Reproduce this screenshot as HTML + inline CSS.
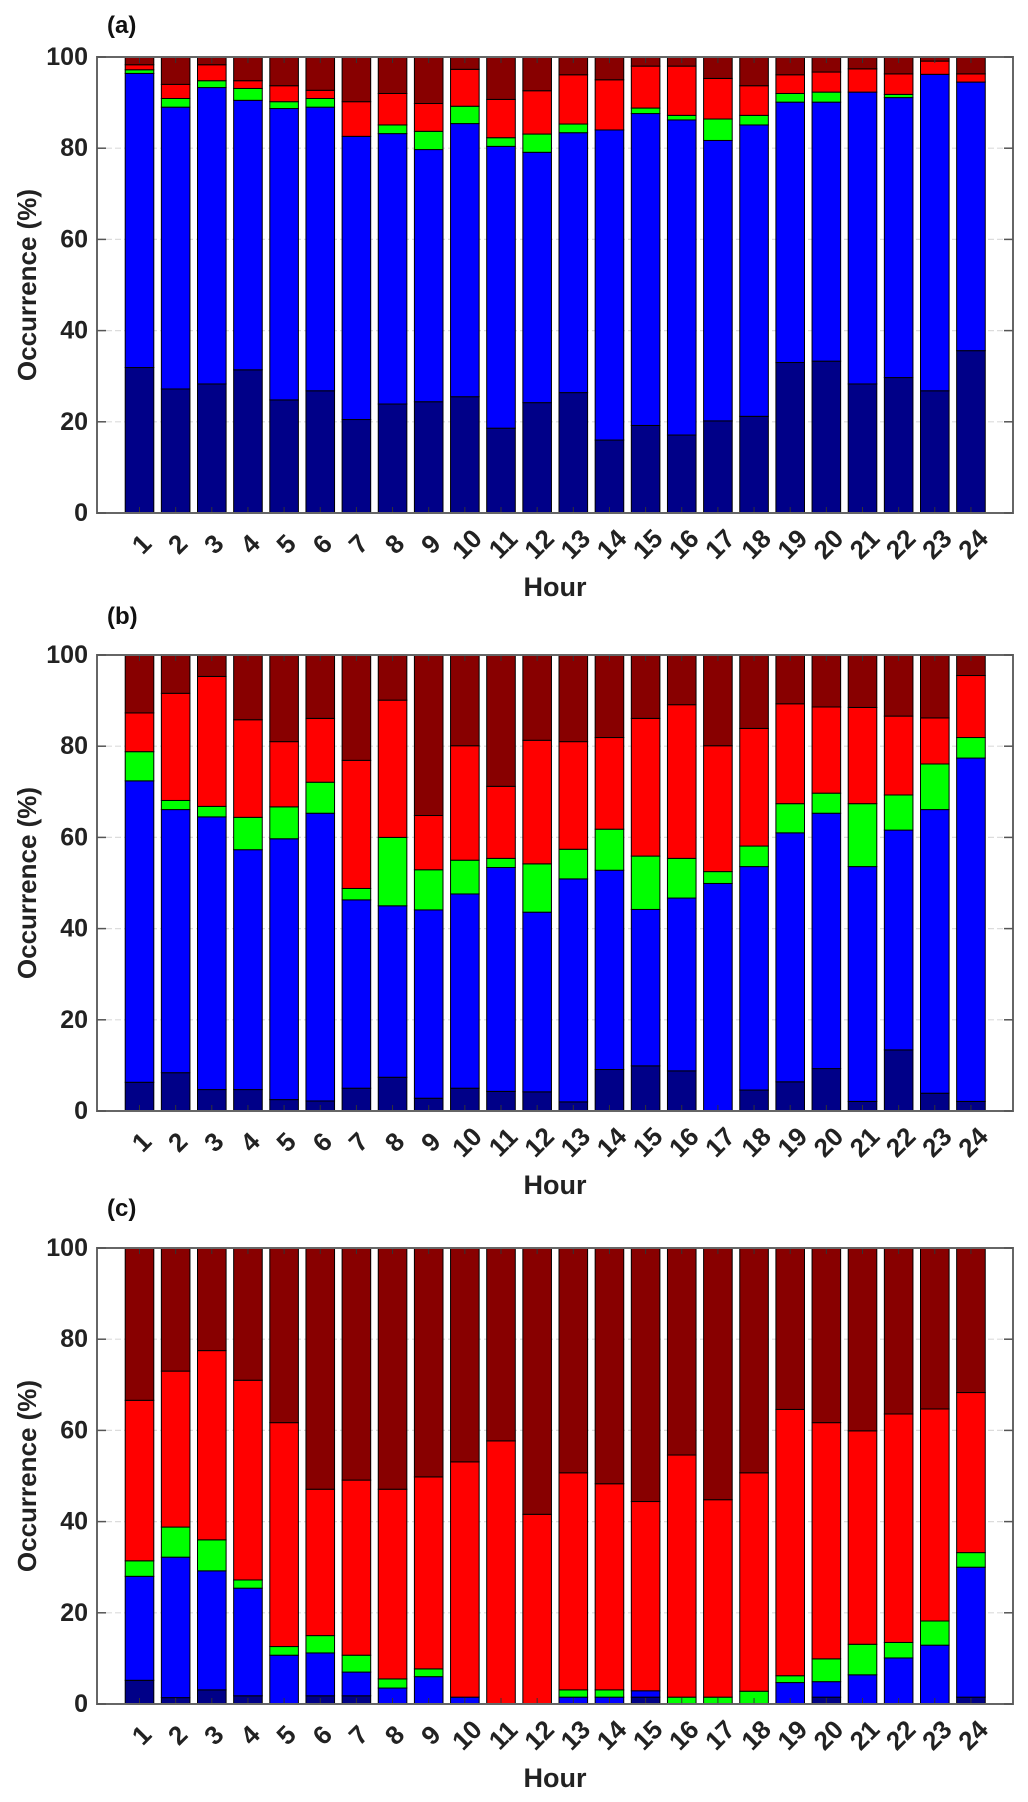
<!DOCTYPE html>
<html><head><meta charset="utf-8"><style>
html,body{margin:0;padding:0;background:#fff;}
svg{display:block;font-family:"Liberation Sans",Arial,sans-serif;}
</style></head><body>
<svg id="chart" width="1028" height="1802" viewBox="0 0 1028 1802"></svg>
<script>
const hours = [1,2,3,4,5,6,7,8,9,10,11,12,13,14,15,16,17,18,19,20,21,22,23,24];
const yTicks = [0,20,40,60,80,100];
const panelLabels = ["(a)","(b)","(c)"];
// cumulative tops (%) for each stacked layer: navy, blue, green, red; dark red fills to 100
const aNavy  = [31.9,27.2,28.3,31.4,24.8,26.8,20.5,23.9,24.4,25.5,18.6,24.2,26.4,16.0,19.2,17.1,20.2,21.2,33.0,33.3,28.3,29.7,26.8,35.6];
const aBlue  = [96.4,89.0,93.3,90.5,88.7,89.0,82.6,83.2,79.7,85.4,80.4,79.1,83.4,84.0,87.6,86.2,81.7,85.1,90.1,90.1,92.3,91.1,96.2,94.5];
const aGreen = [97.2,90.9,94.8,93.1,90.2,90.9,82.6,85.1,83.7,89.2,82.3,83.1,85.3,84.0,88.8,87.2,86.4,87.2,92.0,92.3,92.3,91.8,96.2,94.5];
const aRed   = [98.3,94.0,98.3,94.8,93.7,92.7,90.2,92.0,89.8,97.3,90.7,92.6,96.1,95.0,98.0,98.0,95.3,93.7,96.1,96.7,97.4,96.3,99.1,96.3];
const bNavy  = [6.3,8.4,4.7,4.7,2.5,2.2,5.0,7.4,2.8,5.0,4.3,4.2,2.0,9.1,9.9,8.8,0,4.6,6.4,9.3,2.1,13.4,3.9,2.1];
const bBlue  = [72.4,66.1,64.5,57.3,59.7,65.3,46.3,45.0,44.1,47.6,53.4,43.6,50.9,52.8,44.2,46.7,49.9,53.6,61.0,65.3,53.6,61.6,66.1,77.4];
const bGreen = [78.8,68.1,66.8,64.4,66.7,72.1,48.8,60.0,52.9,55.0,55.4,54.2,57.4,61.8,55.9,55.4,52.5,58.1,67.4,69.7,67.4,69.3,76.1,81.9];
const bRed   = [87.3,91.6,95.3,85.8,81.0,86.1,76.9,90.1,64.8,80.1,71.2,81.3,81.0,81.9,86.1,89.1,80.1,83.9,89.3,88.6,88.5,86.6,86.2,95.5];
const cNavy  = [5.2,1.4,3.1,1.8,0,1.8,1.8,0,0,0,0,0,0,0,1.5,0,0,0,0,1.5,0,0,0,1.5];
const cBlue  = [28.0,32.2,29.2,25.4,10.7,11.2,7.0,3.5,6.0,1.5,0,0,1.5,1.5,2.9,0,0,0,4.7,4.9,6.4,10.1,12.9,30.0];
const cGreen = [31.4,38.8,36.0,27.2,12.6,15.0,10.7,5.5,7.7,1.5,0,0,3.1,3.1,2.9,1.5,1.5,2.8,6.2,9.9,13.1,13.5,18.2,33.2];
const cRed   = [66.6,73.0,77.5,71.0,61.7,47.1,49.1,47.1,49.8,53.1,57.7,41.6,50.7,48.3,44.4,54.6,44.8,50.7,64.6,61.7,59.9,63.6,64.7,68.3];

const NS = "http://www.w3.org/2000/svg";
const svg = document.getElementById("chart");
const X0 = 97, X1 = 1013, BW = 28.6;
const panelTops = [57, 655, 1248];
const PH = 456;
const layerColors = ["#000088", "#0000ff", "#00ff00", "#ff0000", "#880000"];
const layerNames = ["navy", "blue", "green", "red", "darkred"];
function xScale(h){ return 139.5 + (h - 1) * 36.15; }
function mk(tag, attrs, parent){
  const e = document.createElementNS(NS, tag);
  for (const k in attrs) e.setAttribute(k, attrs[k]);
  (parent || svg).appendChild(e);
  return e;
}
const panels = [[aNavy,aBlue,aGreen,aRed],[bNavy,bBlue,bGreen,bRed],[cNavy,cBlue,cGreen,cRed]];
panels.forEach((cum, p) => {
  const top = panelTops[p], bot = top + PH;
  const yScale = v => bot - v / 100 * PH;
  const g = mk("g", {});
  
  
  yTicks.forEach(t => {
    if (t === 0 || t === 100) return;
    const l = mk("line", {x1:X0, x2:X1, y1:yScale(t), y2:yScale(t), stroke:"#dcdcdc", "stroke-width":1.2, "stroke-dasharray":"6,3"}, g);
    
    
  });
  hours.forEach((h, i) => {
    const bounds = [0, cum[0][i], cum[1][i], cum[2][i], cum[3][i], 100];
    for (let k = 0; k < 5; k++) {
      const y0 = yScale(bounds[k]), y1 = yScale(bounds[k+1]);
      if (y0 - y1 <= 0.01) continue;
      const r = mk("rect", {x:xScale(h) - BW/2, y:y1, width:BW, height:y0 - y1, fill:layerColors[k], stroke:"#000", "stroke-width":1}, g);
      
      
    }
    mk("line", {x1:xScale(h), x2:xScale(h), y1:bot, y2:bot-6, stroke:"#333", "stroke-width":1}, g);
    mk("line", {x1:xScale(h), x2:xScale(h), y1:top, y2:top+6, stroke:"#333", "stroke-width":1}, g);
    const tl = mk("text", {x:0, y:0, "font-size":26, "font-weight":"bold", fill:"#222", "text-anchor":"middle", "dominant-baseline":"central",
      transform:"translate(" + (xScale(h)+2) + "," + (bot + 31) + ") rotate(-45)"}, g);
    tl.textContent = h;
    
    
  });
  const box = mk("rect", {x:X0, y:top, width:X1 - X0, height:PH, fill:"none", stroke:"#666", "stroke-width":2}, g);
  
  
  yTicks.forEach(t => {
    mk("line", {x1:X0, x2:X0+9, y1:yScale(t), y2:yScale(t), stroke:"#555", "stroke-width":1.5}, g);
    mk("line", {x1:X1-9, x2:X1, y1:yScale(t), y2:yScale(t), stroke:"#555", "stroke-width":1.5}, g);
    const yl = mk("text", {x:88, y:yScale(t), "font-size":25, "font-weight":"bold", fill:"#222", "text-anchor":"end", "dominant-baseline":"central"}, g);
    yl.textContent = t;
    
    
  });
  const yt = mk("text", {x:0, y:0, "font-size":26, "font-weight":"bold", fill:"#222", "text-anchor":"middle", "dominant-baseline":"central",
    transform:"translate(27," + (top + PH/2) + ") rotate(-90)"}, g);
  yt.textContent = "Occurrence (%)";
  
  
  const xt = mk("text", {x:(X0+X1)/2, y:bot + 83, "font-size":27, "font-weight":"bold", fill:"#222", "text-anchor":"middle"}, g);
  xt.textContent = "Hour";
  
  
  const pl = mk("text", {x:107, y:[33, 624, 1216][p], "font-size":24, "font-weight":"bold", fill:"#111"}, g);
  pl.textContent = panelLabels[p];
  
  
});
</script>
</body></html>
